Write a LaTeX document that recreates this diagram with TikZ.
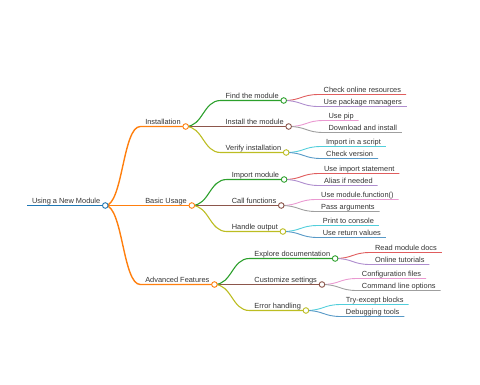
\documentclass[tikz,border=0pt]{standalone}
\usepackage{fontspec}
\setmainfont{Liberation Sans}
\usepackage{xcolor}
\usetikzlibrary{calc}

\definecolor{mmblue}{HTML}{1F77B4}
\definecolor{mmorange}{HTML}{FF7F0E}
\definecolor{mmgreen}{HTML}{2CA02C}
\definecolor{mmred}{HTML}{D62728}
\definecolor{mmpurple}{HTML}{9467BD}
\definecolor{mmbrown}{HTML}{8C564B}
\definecolor{mmpink}{HTML}{E377C2}
\definecolor{mmgray}{HTML}{7F7F7F}
\definecolor{mmolive}{HTML}{BCBD22}
\definecolor{mmcyan}{HTML}{17BECF}

\begin{document}
\begin{tikzpicture}[
    x=1pt, y=-1pt,
    font=\fontsize{7.4}{9}\selectfont,
    item/.style={anchor=south west, inner xsep=5pt, inner ysep=2.5pt, text depth=0pt, outer sep=0pt, text=black!80},
    rootline/.style={line width=1.6pt, mmblue},
    branch/.style={line width=1.4pt, #1},
    twig/.style={line width=1.1pt, #1},
    leafline/.style={line width=0.9pt, #1!75},
    knot/.style={line width=0.9pt, draw=#1, fill=white}
]
\useasboundingbox (0,0) rectangle (480,384);

\node[item] (root) at (27,205.5) {Using a New Module};

\node[item] (inst) at ($(root.south east)+(35,-79)$) {Installation};
\node[item] (basic) at ($(root.south east)+(35,0)$) {Basic Usage};
\node[item] (adv) at ($(root.south east)+(35,79)$) {Advanced Features};

\node[item] (find) at ($(inst.south east)+(35,-26)$) {Find the module};
\node[item] (install) at ($(inst.south east)+(35,0)$) {Install the module};
\node[item] (verify) at ($(inst.south east)+(35,26)$) {Verify installation};
\node[item] (import) at ($(basic.south east)+(35,-26)$) {Import module};
\node[item] (call) at ($(basic.south east)+(35,0)$) {Call functions};
\node[item] (handle) at ($(basic.south east)+(35,26)$) {Handle output};
\node[item] (explore) at ($(adv.south east)+(35,-26)$) {Explore documentation};
\node[item] (custom) at ($(adv.south east)+(35,0)$) {Customize settings};
\node[item] (error) at ($(adv.south east)+(35,26)$) {Error handling};

\node[item] (online) at ($(find.south east)+(35,-6)$) {Check online resources};
\node[item] (managers) at ($(find.south east)+(35,6)$) {Use package managers};
\node[item] (pip) at ($(install.south east)+(35,-6)$) {Use pip};
\node[item] (download) at ($(install.south east)+(35,6)$) {Download and install};
\node[item] (script) at ($(verify.south east)+(35,-6)$) {Import in a script};
\node[item] (version) at ($(verify.south east)+(35,6)$) {Check version};
\node[item] (statement) at ($(import.south east)+(35,-6)$) {Use import statement};
\node[item] (alias) at ($(import.south east)+(35,6)$) {Alias if needed};
\node[item] (usefn) at ($(call.south east)+(35,-6)$) {Use module.function()};
\node[item] (args) at ($(call.south east)+(35,6)$) {Pass arguments};
\node[item] (print) at ($(handle.south east)+(35,-6)$) {Print to console};
\node[item] (retval) at ($(handle.south east)+(35,6)$) {Use return values};
\node[item] (docs) at ($(explore.south east)+(35,-6)$) {Read module docs};
\node[item] (tutorials) at ($(explore.south east)+(35,6)$) {Online tutorials};
\node[item] (config) at ($(custom.south east)+(35,-6)$) {Configuration files};
\node[item] (cmdline) at ($(custom.south east)+(35,6)$) {Command line options};
\node[item] (tryexc) at ($(error.south east)+(35,-6)$) {Try-except blocks};
\node[item] (debug) at ($(error.south east)+(35,6)$) {Debugging tools};

\draw[rootline] (root.south west) -- (root.south east);

\draw[branch=mmorange] (root.south east) .. controls +(17.5,0) and +(-17.5,0) .. (inst.south west) -- (inst.south east);
\draw[branch=mmorange] (root.south east) .. controls +(17.5,0) and +(-17.5,0) .. (basic.south west) -- (basic.south east);
\draw[branch=mmorange] (root.south east) .. controls +(17.5,0) and +(-17.5,0) .. (adv.south west) -- (adv.south east);

\draw[twig=mmgreen] (inst.south east) .. controls +(17.5,0) and +(-17.5,0) .. (find.south west) -- (find.south east);
\draw[twig=mmbrown] (inst.south east) .. controls +(17.5,0) and +(-17.5,0) .. (install.south west) -- (install.south east);
\draw[twig=mmolive] (inst.south east) .. controls +(17.5,0) and +(-17.5,0) .. (verify.south west) -- (verify.south east);
\draw[twig=mmgreen] (basic.south east) .. controls +(17.5,0) and +(-17.5,0) .. (import.south west) -- (import.south east);
\draw[twig=mmbrown] (basic.south east) .. controls +(17.5,0) and +(-17.5,0) .. (call.south west) -- (call.south east);
\draw[twig=mmolive] (basic.south east) .. controls +(17.5,0) and +(-17.5,0) .. (handle.south west) -- (handle.south east);
\draw[twig=mmgreen] (adv.south east) .. controls +(17.5,0) and +(-17.5,0) .. (explore.south west) -- (explore.south east);
\draw[twig=mmbrown] (adv.south east) .. controls +(17.5,0) and +(-17.5,0) .. (custom.south west) -- (custom.south east);
\draw[twig=mmolive] (adv.south east) .. controls +(17.5,0) and +(-17.5,0) .. (error.south west) -- (error.south east);

\draw[leafline=mmred] (find.south east) .. controls +(17.5,0) and +(-17.5,0) .. (online.south west) -- (online.south east);
\draw[leafline=mmpurple] (find.south east) .. controls +(17.5,0) and +(-17.5,0) .. (managers.south west) -- (managers.south east);
\draw[leafline=mmpink] (install.south east) .. controls +(17.5,0) and +(-17.5,0) .. (pip.south west) -- (pip.south east);
\draw[leafline=mmgray] (install.south east) .. controls +(17.5,0) and +(-17.5,0) .. (download.south west) -- (download.south east);
\draw[leafline=mmcyan] (verify.south east) .. controls +(17.5,0) and +(-17.5,0) .. (script.south west) -- (script.south east);
\draw[leafline=mmblue] (verify.south east) .. controls +(17.5,0) and +(-17.5,0) .. (version.south west) -- (version.south east);
\draw[leafline=mmred] (import.south east) .. controls +(17.5,0) and +(-17.5,0) .. (statement.south west) -- (statement.south east);
\draw[leafline=mmpurple] (import.south east) .. controls +(17.5,0) and +(-17.5,0) .. (alias.south west) -- (alias.south east);
\draw[leafline=mmpink] (call.south east) .. controls +(17.5,0) and +(-17.5,0) .. (usefn.south west) -- (usefn.south east);
\draw[leafline=mmgray] (call.south east) .. controls +(17.5,0) and +(-17.5,0) .. (args.south west) -- (args.south east);
\draw[leafline=mmcyan] (handle.south east) .. controls +(17.5,0) and +(-17.5,0) .. (print.south west) -- (print.south east);
\draw[leafline=mmblue] (handle.south east) .. controls +(17.5,0) and +(-17.5,0) .. (retval.south west) -- (retval.south east);
\draw[leafline=mmred] (explore.south east) .. controls +(17.5,0) and +(-17.5,0) .. (docs.south west) -- (docs.south east);
\draw[leafline=mmpurple] (explore.south east) .. controls +(17.5,0) and +(-17.5,0) .. (tutorials.south west) -- (tutorials.south east);
\draw[leafline=mmpink] (custom.south east) .. controls +(17.5,0) and +(-17.5,0) .. (config.south west) -- (config.south east);
\draw[leafline=mmgray] (custom.south east) .. controls +(17.5,0) and +(-17.5,0) .. (cmdline.south west) -- (cmdline.south east);
\draw[leafline=mmcyan] (error.south east) .. controls +(17.5,0) and +(-17.5,0) .. (tryexc.south west) -- (tryexc.south east);
\draw[leafline=mmblue] (error.south east) .. controls +(17.5,0) and +(-17.5,0) .. (debug.south west) -- (debug.south east);

\draw[knot=mmblue] (root.south east) circle (2.8);
\draw[knot=mmorange] (inst.south east) circle (2.8);
\draw[knot=mmorange] (basic.south east) circle (2.8);
\draw[knot=mmorange] (adv.south east) circle (2.8);
\draw[knot=mmgreen] (find.south east) circle (2.8);
\draw[knot=mmbrown] (install.south east) circle (2.8);
\draw[knot=mmolive] (verify.south east) circle (2.8);
\draw[knot=mmgreen] (import.south east) circle (2.8);
\draw[knot=mmbrown] (call.south east) circle (2.8);
\draw[knot=mmolive] (handle.south east) circle (2.8);
\draw[knot=mmgreen] (explore.south east) circle (2.8);
\draw[knot=mmbrown] (custom.south east) circle (2.8);
\draw[knot=mmolive] (error.south east) circle (2.8);
\end{tikzpicture}
\end{document}
